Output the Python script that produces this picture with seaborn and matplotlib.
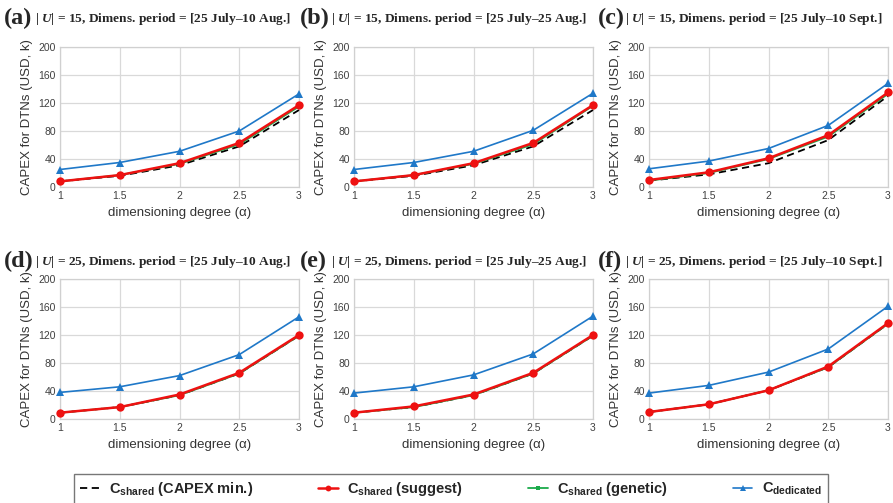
import matplotlib
matplotlib.use("Agg")
import matplotlib.pyplot as plt
import seaborn as sns
from matplotlib.lines import Line2D

# --- datos ---
alpha = [1, 1.5, 2, 2.5, 3]
x_ticks = [1, 1.5, 2, 2.5, 3]
x_tick_labels = ["1", "1.5", "2", "2.5", "3"]
y_ticks = [0, 40, 80, 120, 160, 200]

panel_letters = ["(a)", "(b)", "(c)", "(d)", "(e)", "(f)"]
panel_users = [15, 15, 15, 25, 25, 25]
panel_periods = ["25 July–10 Aug.", "25 July–25 Aug.", "25 July–10 Sept.",
                 "25 July–10 Aug.", "25 July–25 Aug.", "25 July–10 Sept."]

# C_shared (CAPEX min.)
capex_min = [
    [8, 16, 31, 58, 110],
    [8, 16, 31, 58, 110],
    [9, 18, 34, 67, 130],
    [9, 17, 34, 65, 119],
    [9, 17, 34, 65, 119],
    [10, 21, 41, 74, 136],
]
# C_shared (suggest)
suggest = [
    [8, 17, 34, 63, 117],
    [8, 17, 34, 63, 117],
    [10, 21, 41, 74, 135],
    [9, 17, 35, 66, 120],
    [9, 18, 35, 66, 120],
    [10, 21, 41, 75, 137],
]
# C_shared (genetic)
genetic = [
    [8, 17, 33, 61, 115],
    [8, 17, 33, 61, 116],
    [9, 20, 40, 72, 133],
    [9, 17, 34, 65, 119],
    [9, 17, 34, 65, 119],
    [10, 21, 41, 74, 136],
]
# C_dedicated
dedicated = [
    [25, 35, 51, 80, 133],
    [25, 35, 51, 81, 134],
    [26, 37, 55, 88, 148],
    [38, 46, 62, 92, 146],
    [37, 46, 63, 93, 147],
    [37, 48, 67, 100, 161],
]

series = [
    ("C$_{\\mathrm{shared}}$ (CAPEX min.)", capex_min,
     dict(color="black", linestyle=(0, (4, 2.5)), linewidth=1.3, marker=None)),
    ("C$_{\\mathrm{shared}}$ (genetic)", genetic,
     dict(color="#1aaa4a", linewidth=1.3, marker="s", markersize=3.5)),
    ("C$_{\\mathrm{shared}}$ (suggest)", suggest,
     dict(color="#ee1111", linewidth=1.8, marker="o", markersize=6)),
    ("C$_{\\mathrm{dedicated}}$", dedicated,
     dict(color="#1f78c8", linewidth=1.2, marker="^", markersize=6)),
]

sns.set_theme(style="whitegrid")
plt.rcParams["font.family"] = ["Liberation Sans", "DejaVu Sans"]
plt.rcParams["mathtext.fontset"] = "custom"
plt.rcParams["mathtext.rm"] = "Liberation Sans:bold"
plt.rcParams["mathtext.bf"] = "Liberation Sans:bold"
plt.rcParams["mathtext.it"] = "Liberation Serif:italic:bold"

W, H = 893, 503
fig = plt.figure(figsize=(W / 100, H / 100), dpi=100)

ax_left = [60, 354, 649]
ax_bottom = [187, 419]
ax_w, ax_h = 239, 140
letter_x = [4, 300, 598]
rest_x = [35, 331, 625]
title_y = [18, 261]

for i in range(6):
    row, col = divmod(i, 3)
    ax = fig.add_axes([ax_left[col] / W, 1 - ax_bottom[row] / H, ax_w / W, ax_h / H])
    for label, data, style in series:
        sns.lineplot(x=alpha, y=data[i], ax=ax, clip_on=False, zorder=3,
                     markeredgewidth=0, **style)
    ax.set_xlim(1, 3)
    ax.set_ylim(0, 200)
    ax.set_xticks(x_ticks)
    ax.set_xticklabels(x_tick_labels)
    ax.set_yticks(y_ticks)
    ax.tick_params(labelsize=7.5, colors="#404040", pad=3, length=0)
    ax.grid(color="#d9d9d9", linewidth=0.9)
    for sp in ax.spines.values():
        sp.set_color("#d0d0d0")
        sp.set_linewidth(0.9)
    ax.set_xlabel("dimensioning degree (α)", fontsize=9.5, color="#333333", labelpad=4)
    ax.set_ylabel("CAPEX for DTNs (USD, k)", fontsize=9.5, color="#333333", labelpad=4)

    fig.text(letter_x[col] / W, 1 - title_y[row] / H, panel_letters[i],
             family="Liberation Serif", fontweight="bold", fontsize=17.5, va="center")
    fig.text(rest_x[col] / W, 1 - (title_y[row] + 1) / H,
             f"| $U$| = {panel_users[i]}, Dimens. period = [{panel_periods[i]}]",
             family="Liberation Serif", fontweight="bold", fontsize=9.6, va="center")

legend_order = [0, 2, 1, 3]
handles = []
labels = []
for k in legend_order:
    label, data, style = series[k]
    st = dict(style)
    if st.get("marker"):
        st["markersize"] = st["markersize"] * 0.7
    handles.append(Line2D([], [], markeredgewidth=0, **st))
    labels.append(label)

leg = fig.legend(handles, labels, loc="upper left", bbox_to_anchor=(74 / W, 1 - 474 / H),
                 ncol=4, frameon=True, fancybox=False,
                 prop={"family": "Liberation Sans", "weight": "bold", "size": 10.5},
                 handlelength=1.35, handletextpad=0.65, columnspacing=4.45,
                 borderpad=0.4, borderaxespad=0)
leg.get_frame().set_edgecolor("#555555")
leg.get_frame().set_linewidth(1.0)

fig.savefig("out.png", dpi=100)
